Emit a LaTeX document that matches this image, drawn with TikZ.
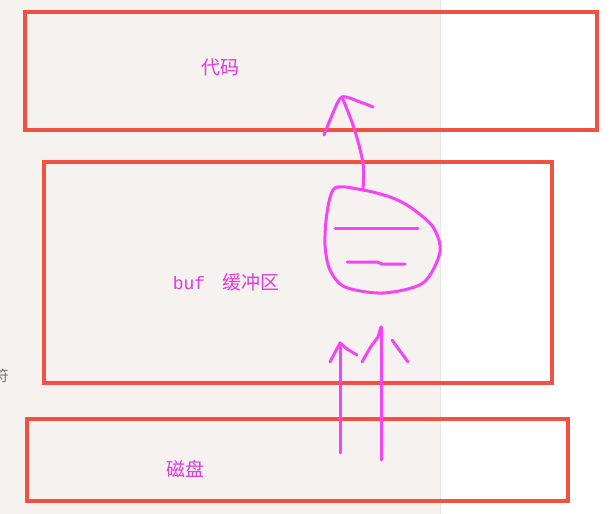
\documentclass[tikz,border=0pt]{standalone}
\usepackage{fontspec}
\newfontfamily\cjk{Noto Sans CJK SC}
\setmonofont{Liberation Mono}
\usetikzlibrary{positioning}
\definecolor{boxred}{RGB}{242,80,64}
\definecolor{pen}{RGB}{245,68,245}
\definecolor{ink}{RGB}{222,58,222}
\definecolor{paper}{RGB}{245,242,239}

\begin{document}
\begin{tikzpicture}[x=1pt, y=-1pt,
    box/.style={draw=boxred, line width=3.5pt, rectangle, inner sep=0pt},
    layertext/.style={text=ink, inner sep=1pt, font=\cjk\fontsize{19}{19}\selectfont},
    stroke/.style={draw=pen, line width=3pt, line cap=round, line join=round}]
  \useasboundingbox (0,0) rectangle (616,514);
  \fill[paper] (0,0) rectangle (440,514);
  \fill[white] (440,0) rectangle (616,514);
  \draw[black!10, line width=1pt] (440,0) -- (440,514);
  \node[text=black!55, font=\cjk\fontsize{15}{15}\selectfont, anchor=east, inner sep=0pt] (fu) at (9,376) {符};
  % the three layers
  \node[box, minimum width=572pt, minimum height=118pt] (code) at (311,71) {};
  \node[box, minimum width=508pt, minimum height=221pt] (buffer) at (298,272.5) {};
  \node[box, minimum width=541pt, minimum height=82pt] (disk) at (297.5,460) {};
  \node[layertext] (codetext) at (220,67) {代码};
  \node[layertext, font=\ttfamily\fontsize{18}{18}\selectfont] (buftext) at (189,283) {buf};
  \node[layertext] (buftextcn) at (251,282) {缓冲区};
  \node[layertext] (disktext) at (185,469) {磁盘};
  % hand drawn arrows
  \coordinate (tipA) at (342,97);
  \coordinate (tipB) at (340,343);
  \coordinate (tipC) at (381,327);
  \coordinate (blobtop) at (363,190);
  \draw[stroke] plot[smooth] coordinates {(blobtop) (363,163) (354,128) (tipA)};
  \draw[stroke] plot[smooth] coordinates {(324,135) (333,113) (tipA) (360,102) (373,107)};
  \draw[stroke] plot[smooth cycle] coordinates {(blobtop) (335,188) (327,213) (325,245) (330,270) (345,287) (383,293) (423,283) (440,252) (433,227) (410,207) (390,197)};
  \draw[stroke] (335,228) -- (418,228);
  \draw[stroke] (347,262) -- (377,262) -- (382,264) -- (405,264);
  \draw[stroke] (340,453) -- (tipB);
  \draw[stroke] (330,362) -- (tipB) -- (347,349) -- (357,355);
  \draw[stroke] (381,460) -- (tipC);
  \draw[stroke] (362,362) -- (370,348) -- (378,337) -- (tipC);
  \draw[stroke] (392,340) -- (408,362);
\end{tikzpicture}
\end{document}
